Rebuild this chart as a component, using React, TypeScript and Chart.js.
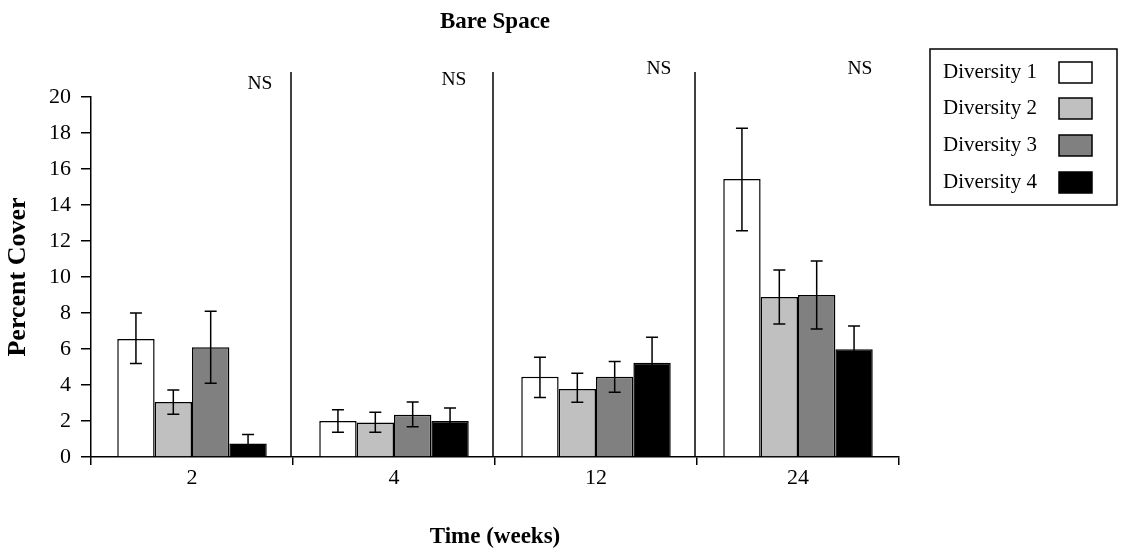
import React, { useEffect, useRef } from "react";
import { Chart, registerables } from "chart.js";

Chart.register(...registerables);

const categories = ["2", "4", "12", "24"];
const seriesNames = ["Diversity 1", "Diversity 2", "Diversity 3", "Diversity 4"];
const seriesColors = ["#FFFFFF", "#C0C0C0", "#808080", "#000000"];
const d1 = [6.55, 2.0, 4.46, 15.44];
const d2 = [3.05, 1.92, 3.78, 8.89];
const d3 = [6.1, 2.35, 4.46, 9.0];
const d4 = [0.75, 2.0, 5.24, 5.98];
const d1Up = [8.0, 2.62, 5.54, 18.26];
const d1Lo = [5.2, 1.38, 3.3, 12.57];
const d2Up = [3.72, 2.48, 4.65, 10.39];
const d2Lo = [2.38, 1.38, 3.04, 7.39];
const d3Up = [8.1, 3.05, 5.3, 10.89];
const d3Lo = [4.1, 1.68, 3.6, 7.11];
const d4Up = [1.25, 2.72, 6.65, 7.28];
const d4Lo = [0.25, 1.28, 3.83, 4.68];
const sigLabels = ["NS", "NS", "NS", "NS"];
const yTicks = [0, 2, 4, 6, 8, 10, 12, 14, 16, 18, 20];

const values = [d1, d2, d3, d4];
const uppers = [d1Up, d2Up, d3Up, d4Up];
const lowers = [d1Lo, d2Lo, d3Lo, d4Lo];

const FONT = "'Liberation Serif', 'Times New Roman', serif";

const extrasPlugin = {
  id: "extras",
  afterDatasetsDraw(chart: any) {
    const ctx = chart.ctx;
    const y = chart.scales.y;
    const area = chart.chartArea;
    ctx.save();
    // error bars
    ctx.strokeStyle = "#000";
    ctx.lineWidth = 1.5;
    chart.data.datasets.forEach((ds: any, di: number) => {
      const meta = chart.getDatasetMeta(di);
      meta.data.forEach((bar: any, i: number) => {
        const cx = bar.x;
        const yu = y.getPixelForValue(ds.errUp[i]);
        const yl = y.getPixelForValue(ds.errLo[i]);
        const cap = 6;
        ctx.beginPath();
        ctx.moveTo(cx, yu);
        ctx.lineTo(cx, yl);
        ctx.moveTo(cx - cap, yu);
        ctx.lineTo(cx + cap, yu);
        ctx.moveTo(cx - cap, yl);
        ctx.lineTo(cx + cap, yl);
        ctx.stroke();
      });
    });
    // separators
    const n = categories.length;
    const step = (area.right - area.left) / n;
    ctx.lineWidth = 1.5;
    for (let i = 1; i < n; i++) {
      const sx = Math.round(area.left + step * i) - 2;
      ctx.beginPath();
      ctx.moveTo(sx, area.top - 25);
      ctx.lineTo(sx, area.bottom);
      ctx.stroke();
    }
    // NS labels
    const nsY = [84, 80, 69, 69];
    const nsOff = [33, 41, 38, 39];
    ctx.fillStyle = "#000";
    ctx.font = `19.5px ${FONT}`;
    ctx.textAlign = "center";
    ctx.textBaseline = "middle";
    for (let i = 0; i < n; i++) {
      const rx = area.left + step * (i + 1);
      ctx.fillText(sigLabels[i], rx - nsOff[i], nsY[i]);
    }
    // title
    ctx.font = `bold 23px ${FONT}`;
    ctx.fillText("Bare Space", (area.left + area.right) / 2, 22);
    // legend
    const lx = 930, ly = 49, lw = 187, lh = 156;
    ctx.lineWidth = 1.5;
    ctx.strokeRect(lx, ly, lw, lh);
    ctx.textAlign = "left";
    ctx.font = `21px ${FONT}`;
    const rowsY = [72, 108, 145, 182];
    seriesNames.forEach((name, i) => {
      ctx.fillStyle = "#000";
      ctx.fillText(name, 943, rowsY[i]);
      ctx.fillStyle = seriesColors[i];
      ctx.fillRect(1059, rowsY[i] - 10, 33, 21);
      ctx.strokeStyle = "#000";
      ctx.lineWidth = 1.5;
      ctx.strokeRect(1059, rowsY[i] - 10, 33, 21);
    });
    ctx.restore();
  },
};

export default function App() {
  const ref = useRef<HTMLCanvasElement>(null);
  useEffect(() => {
    document.body.style.margin = "0";
    const canvas = ref.current!;
    const chart = new Chart(canvas, {
      type: "bar",
      data: {
        labels: categories,
        datasets: seriesNames.map((name, i) => ({
          label: name,
          data: values[i],
          errUp: uppers[i],
          errLo: lowers[i],
          backgroundColor: seriesColors[i],
          borderColor: "#000",
          borderWidth: 1.5,
          categoryPercentage: 0.74,
          barPercentage: 1.0,
        })) as any,
      },
      options: {
        animation: false,
        responsive: false,
        maintainAspectRatio: false,
        layout: { padding: { top: 97, right: 225, left: 0, bottom: 0 } },
        plugins: {
          legend: { display: false },
          title: { display: false },
          tooltip: { enabled: false },
        },
        scales: {
          x: {
            offset: true,
            grid: {
              offset: true,
              drawOnChartArea: false,
              drawTicks: true,
              tickLength: 8,
              color: "#000",
              lineWidth: 1.5,
            },
            border: { display: true, color: "#000", width: 1.5 },
            ticks: {
              color: "#000",
              font: { family: FONT, size: 22 },
              padding: 0,
              maxRotation: 0,
            },
            title: {
              display: true,
              text: "Time (weeks)",
              color: "#000",
              font: { family: FONT, size: 23, weight: "bold" },
              padding: { top: 15, bottom: 9 },
            },
            afterFit(scale: any) {
              scale.height = 103;
            },
          },
          y: {
            min: 0,
            max: 20,
            afterBuildTicks(scale: any) {
              scale.ticks = yTicks.map((v) => ({ value: v }));
            },
            grid: {
              drawOnChartArea: false,
              drawTicks: true,
              tickLength: 10,
              color: "#000",
              lineWidth: 1.5,
            },
            border: { display: true, color: "#000", width: 1.5 },
            ticks: {
              color: "#000",
              font: { family: FONT, size: 22 },
              padding: 10,
            },
            title: {
              display: true,
              text: "Percent Cover",
              color: "#000",
              font: { family: FONT, size: 26, weight: "bold" },
              padding: { top: 3, bottom: 0 },
            },
            afterFit(scale: any) {
              scale.width = 91;
            },
          },
        },
      },
      plugins: [extrasPlugin],
    });
    return () => chart.destroy();
  }, []);
  return (
    <div style={{ width: 1124, height: 560 }}>
      <canvas ref={ref} width={1124} height={560} style={{ display: "block" }} />
    </div>
  );
}
